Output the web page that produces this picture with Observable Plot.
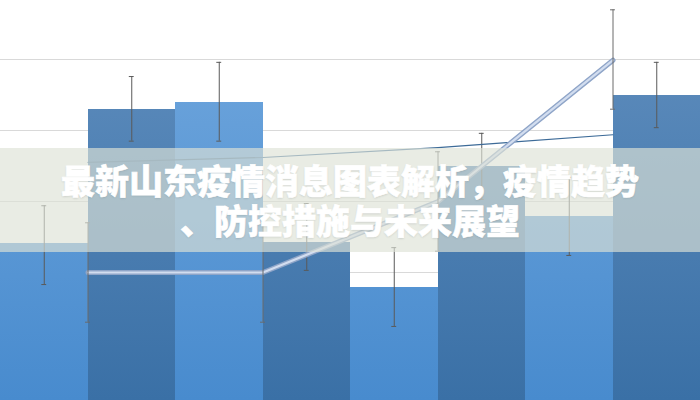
<!DOCTYPE html>
<html>
<head>
<meta charset="utf-8">
<script src="https://cdn.jsdelivr.net/npm/d3@7"></script>
<script src="https://cdn.jsdelivr.net/npm/@observablehq/plot@0.6"></script>
<style>
  html, body { margin: 0; padding: 0; background: #fff; }
  #wrap { position: relative; width: 700px; height: 400px; overflow: hidden; }
  #band {
    position: absolute; left: 0; top: 148px; width: 700px; height: 104px;
    background: rgba(222, 226, 214, 0.66);
  }
  .tline {
    position: absolute; left: 0; width: 700px; height: 36px; text-align: center;
    font-family: "Noto Sans CJK SC", "Noto Sans", sans-serif; font-weight: 900;
    font-size: 34px; line-height: 36px; color: #fff; white-space: nowrap;
    -webkit-text-stroke: 0.6px #fff;
    text-shadow: 0 1px 2px rgba(60,70,80,0.18);
  }
  #t1 { top: 162px; }
  #t2 { top: 202px; }
</style>
</head>
<body>
<div id="wrap">
  <div id="chart"></div>
  <div id="band"></div>
  <div class="tline" id="t1">最新山东疫情消息图表解析，疫情趋势</div>
  <div class="tline" id="t2">、防控措施与未来展望</div>
</div>
<script>
// Bar series (8 categories)
const barIndex = [0, 1, 2, 3, 4, 5, 6, 7];
const barValues = [24.1, 43.0, 43.9, 24.2, 17.9, 34.9, 27.9, 44.9];
const barErrLow = [18.3, 38.5, 38.5, 20.3, 12.4, 30.3, 22.4, 40.4];
const barErrHigh = [29.4, 47.6, 49.6, 29.7, 23.5, 39.6, 33.4, 49.6];
// Line series, placed at category boundaries
const linePos = [1, 3, 5, 7];
const lineA = [20.0, 20.0, 30.0, 49.9];
const lineAErrLow = [13.0, 13.0, 23.0, 43.0];
const lineAErrHigh = [27.0, 27.0, 37.0, 57.0];
const lineB = [35.5, 36.2, 37.6, 39.4];
const gridTicks = [10, 20, 30, 40, 50];

const bars = barIndex.map((i) => ({
  x1: i, x2: i + 1, xc: i + 0.5, v: barValues[i], lo: barErrLow[i], hi: barErrHigh[i]
}));
const lightBars = bars.filter((d, i) => i % 2 === 0);
const darkBars = bars.filter((d, i) => i % 2 === 1);
const ptsA = linePos.map((x, i) => ({ x, y: lineA[i], lo: lineAErrLow[i], hi: lineAErrHigh[i] }));
const ptsB = linePos.map((x, i) => ({ x, y: lineB[i] }));
const cap = 0.028;

const chart = Plot.plot({
  width: 700,
  height: 400,
  margin: 0,
  x: { domain: [0, 8], axis: null },
  y: { domain: [1.97, 58.31], axis: null },
  marks: [
    Plot.ruleY(gridTicks, { stroke: "#d9d9d9", strokeWidth: 1 }),
    Plot.rectY(lightBars, { x1: "x1", x2: "x2", y1: 0, y2: "v", fill: "url(#gLight)", clip: true, shapeRendering: "crispEdges" }),
    Plot.rectY(darkBars, { x1: "x1", x2: "x2", y1: 0, y2: "v", fill: "url(#gDark)", clip: true, shapeRendering: "crispEdges" }),
    Plot.ruleX(bars, { x: "xc", y1: "lo", y2: "hi", stroke: "#5a5a5a", strokeWidth: 1 }),
    Plot.ruleY(bars, { x1: (d) => d.xc - cap, x2: (d) => d.xc + cap, y: "lo", stroke: "#5a5a5a" }),
    Plot.ruleY(bars, { x1: (d) => d.xc - cap, x2: (d) => d.xc + cap, y: "hi", stroke: "#5a5a5a" }),
    Plot.line(ptsB, { x: "x", y: "y", stroke: "#3d6b98", strokeWidth: 1.2 }),
    Plot.line(ptsA, { x: "x", y: "y", stroke: "#8fa5c8", strokeWidth: 5 }),
    Plot.line(ptsA, { x: "x", y: "y", stroke: "#d2ddef", strokeWidth: 2.2 }),
    Plot.ruleX(ptsA, { x: "x", y1: "lo", y2: "hi", stroke: "#6a6a6a", strokeWidth: 1 }),
    Plot.ruleY(ptsA, { x1: (d) => d.x - cap, x2: (d) => d.x + cap, y: "lo", stroke: "#6a6a6a" }),
    Plot.ruleY(ptsA, { x1: (d) => d.x - cap, x2: (d) => d.x + cap, y: "hi", stroke: "#6a6a6a" })
  ]
});

d3.select(chart).insert("defs", ":first-child").html(`
  <linearGradient id="gLight" gradientUnits="userSpaceOnUse" x1="0" y1="0" x2="0" y2="400">
    <stop offset="0" stop-color="#72a8de"/>
    <stop offset="1" stop-color="#488bce"/>
  </linearGradient>
  <linearGradient id="gDark" gradientUnits="userSpaceOnUse" x1="0" y1="0" x2="0" y2="400">
    <stop offset="0" stop-color="#618fbf"/>
    <stop offset="1" stop-color="#3a70a6"/>
  </linearGradient>
`);

document.getElementById("chart").appendChild(chart);
</script>
</body>
</html>
